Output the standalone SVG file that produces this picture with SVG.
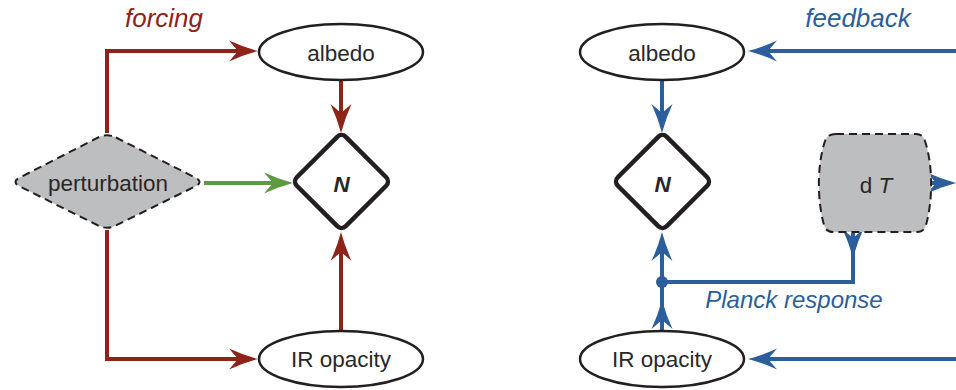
<svg xmlns="http://www.w3.org/2000/svg" width="956" height="390" viewBox="0 0 956 390">
<style>
.lbl{font-family:"Liberation Sans",Arial,sans-serif;font-size:22.5px;fill:#2a2728;text-anchor:middle}
.ell{fill:#fff;stroke:#231f20;stroke-width:2.5}
.dash{fill:#bcbec0;stroke:#231f20;stroke-width:2;stroke-dasharray:8 5}
.ncore{fill:#fff;stroke:#231f20;stroke-width:4.5}
.red{fill:none;stroke:#8e2419;stroke-width:4}
.blue{fill:none;stroke:#2b5e9a;stroke-width:4}
.green{fill:none;stroke:#5d9a40;stroke-width:4}
.title{font-family:"Liberation Sans",Arial,sans-serif;font-style:italic;text-anchor:middle}
</style>
<defs>
<marker id="ar" markerUnits="userSpaceOnUse" markerWidth="32" markerHeight="24" viewBox="0 -12 32 24" refX="9" refY="0" orient="auto"><path d="M0,-10.5 Q14,-4 29,0 Q14,4 0,10.5 L9,0 Z" fill="#8e2419"/></marker>
<marker id="ab" markerUnits="userSpaceOnUse" markerWidth="32" markerHeight="24" viewBox="0 -12 32 24" refX="9" refY="0" orient="auto"><path d="M0,-10.5 Q14,-4 29,0 Q14,4 0,10.5 L9,0 Z" fill="#2b5e9a"/></marker>
<marker id="ag" markerUnits="userSpaceOnUse" markerWidth="32" markerHeight="24" viewBox="0 -12 32 24" refX="9" refY="0" orient="auto"><path d="M0,-10.5 Q14,-4 29,0 Q14,4 0,10.5 L9,0 Z" fill="#5d9a40"/></marker>
</defs>

<text class="title" x="164" y="27" font-size="26" fill="#8e2419">forcing</text>
<text class="title" x="858" y="27" font-size="26" fill="#2b5e9a">feedback</text>
<text class="title" x="794" y="308" font-size="24" fill="#2b5e9a">Planck response</text>

<g id="connectors">
<path class="red" d="M107,133 V51 H238" marker-end="url(#ar)"/>
<path class="red" d="M341,81 V113" marker-end="url(#ar)"/>
<path class="green" d="M204,183 H273" marker-end="url(#ag)"/>
<path class="red" d="M107,230 V359 H238" marker-end="url(#ar)"/>
<path class="red" d="M341,330 V252" marker-end="url(#ar)"/>
<path class="blue" d="M956,51 H768" marker-end="url(#ab)"/>
<path class="blue" d="M662,81 V113" marker-end="url(#ab)"/>
<path class="blue" d="M956,359 H768" marker-end="url(#ab)"/>
<path class="blue" d="M662,330 V320" marker-end="url(#ab)"/>
<path class="blue" d="M662,320 V252" marker-end="url(#ab)"/>
<path class="blue" d="M931,183 H936" marker-end="url(#ab)"/>
<path class="blue" d="M853,233 V238" marker-end="url(#ab)"/>
<path class="blue" d="M853,238 V282 H662"/>
<circle cx="662" cy="282" r="6" fill="#2b5e9a"/>
</g>

<g id="perturbation">
<path class="dash" d="M115.9,137.5 L195.1,177.5 Q204,182 195.1,186.5 L115.9,225.5 Q107,230 98.1,225.5 L19.9,186.5 Q11,182 19.9,177.5 L98.1,137.5 Q107,133 115.9,137.5 Z"/>
<text class="lbl" x="108" y="191" font-size="23">perturbation</text>
</g>

<g id="albedo-left">
<ellipse class="ell" cx="341" cy="52" rx="82" ry="28"/>
<text class="lbl" x="341" y="61">albedo</text>
</g>

<g id="N-left">
<rect class="ncore" x="-34.6" y="-34.6" width="69.2" height="69.2" rx="6" transform="translate(341.5,181.5) rotate(45)"/>
<text class="lbl" x="341.5" y="192" font-size="24" font-weight="bold" font-style="italic">N</text>
</g>

<g id="ir-left">
<ellipse class="ell" cx="341" cy="359" rx="82" ry="28"/>
<text class="lbl" x="341" y="367">IR opacity</text>
</g>

<g id="albedo-right">
<ellipse class="ell" cx="662" cy="52" rx="82" ry="28"/>
<text class="lbl" x="662" y="61">albedo</text>
</g>

<g id="N-right">
<rect class="ncore" x="-34.6" y="-34.6" width="69.2" height="69.2" rx="6" transform="translate(662.5,181.5) rotate(45)"/>
<text class="lbl" x="662.5" y="192" font-size="24" font-weight="bold" font-style="italic">N</text>
</g>

<g id="ir-right">
<ellipse class="ell" cx="662" cy="359" rx="82" ry="28"/>
<text class="lbl" x="662" y="367">IR opacity</text>
</g>

<g id="dT">
<path class="dash" d="M836,134 H916 Q923,134 925,141 C933,165 933,200 926,225 Q924,232 917,232 H833 Q826,232 824,225 C817,200 817,165 825,141 Q827,134 836,134 Z"/>
<text class="lbl" x="876" y="193" font-size="24">d <tspan font-style="italic">T</tspan></text>
</g>
</svg>
